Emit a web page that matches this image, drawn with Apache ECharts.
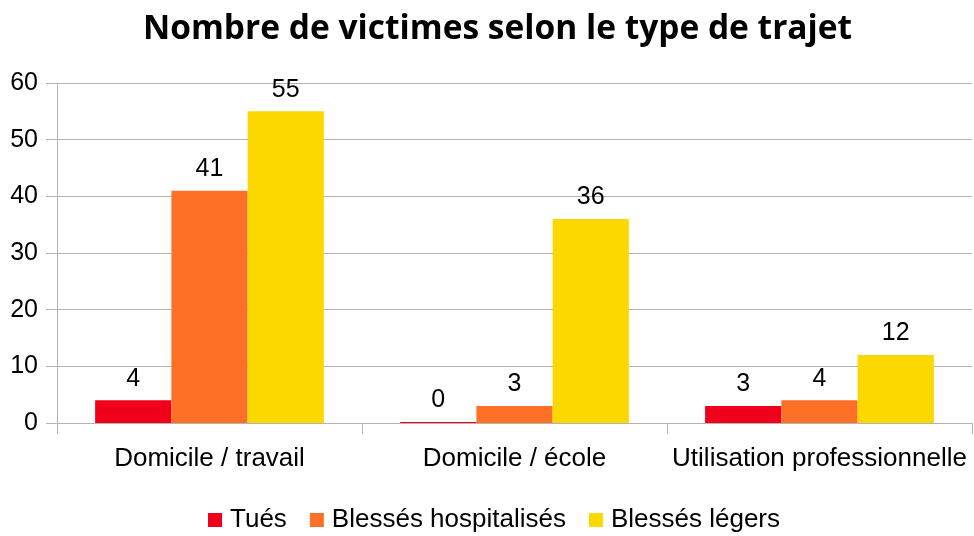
<!DOCTYPE html>
<html>
<head>
<meta charset="utf-8">
<style>
  html, body { margin: 0; padding: 0; background: #fff; }
  #chart { width: 974px; height: 536px; }
</style>
<script src="https://cdn.jsdelivr.net/npm/echarts@6/dist/echarts.min.js"></script>
</head>
<body>
<div id="chart"></div>
<script>
// categories and series values
const categories = ['Domicile / travail', 'Domicile / école', 'Utilisation professionnelle']
const tues = [4, 0, 3]
const blessesHospitalises = [41, 3, 4]
const blessesLegers = [55, 36, 12]

const chart = echarts.init(document.getElementById('chart'))

const labelStyle = {
  show: true,
  position: 'top',
  distance: 9,
  color: '#000',
  fontFamily: 'Liberation Sans',
  fontSize: 25
}

chart.setOption({
  animation: false,
  textStyle: { fontFamily: 'Liberation Sans' },
  title: {
    text: 'Nombre de victimes selon le type de trajet',
    left: 138,
    top: 7,
    textStyle: {
      fontFamily: 'Open Sans',
      fontWeight: 'bold',
      fontSize: 33.5,
      color: '#000'
    }
  },
  legend: {
    bottom: -2,
    left: 203,
    itemWidth: 14,
    itemHeight: 14,
    itemGap: 23,
    icon: 'rect',
    textStyle: { fontSize: 26, color: '#000', fontFamily: 'Liberation Sans', padding: [0, 0, 0, 3] },
    data: ['Tués', 'Blessés hospitalisés', 'Blessés légers']
  },
  grid: {
    left: 57,
    right: 2,
    top: 83,
    bottom: 113
  },
  xAxis: {
    type: 'category',
    data: categories,
    axisLine: { lineStyle: { color: '#b3b3b3', width: 1 } },
    axisTick: { show: true, length: 11, lineStyle: { color: '#b3b3b3' } },
    axisLabel: { color: '#000', fontSize: 26, margin: 23, interval: 0, hideOverlap: false }
  },
  yAxis: {
    type: 'value',
    min: 0,
    max: 60,
    interval: 10,
    axisLine: { show: true, lineStyle: { color: '#b3b3b3', width: 1 } },
    axisTick: { show: true, length: 11, lineStyle: { color: '#b3b3b3' } },
    axisLabel: { color: '#000', fontSize: 25, margin: 19 },
    splitLine: { lineStyle: { color: '#b3b3b3', width: 1 } }
  },
  series: [
    {
      name: 'Tués',
      type: 'bar',
      data: tues,
      barGap: '0%',
      barCategoryGap: '25%',
      barMinHeight: 1,
      itemStyle: { color: '#f0001a' },
      label: labelStyle
    },
    {
      name: 'Blessés hospitalisés',
      type: 'bar',
      data: blessesHospitalises,
      barGap: '0%',
      barCategoryGap: '25%',
      itemStyle: { color: '#fe7025' },
      label: labelStyle
    },
    {
      name: 'Blessés légers',
      type: 'bar',
      data: blessesLegers,
      barGap: '0%',
      barCategoryGap: '25%',
      itemStyle: { color: '#fdd800' },
      label: labelStyle
    }
  ]
})
</script>
</body>
</html>
